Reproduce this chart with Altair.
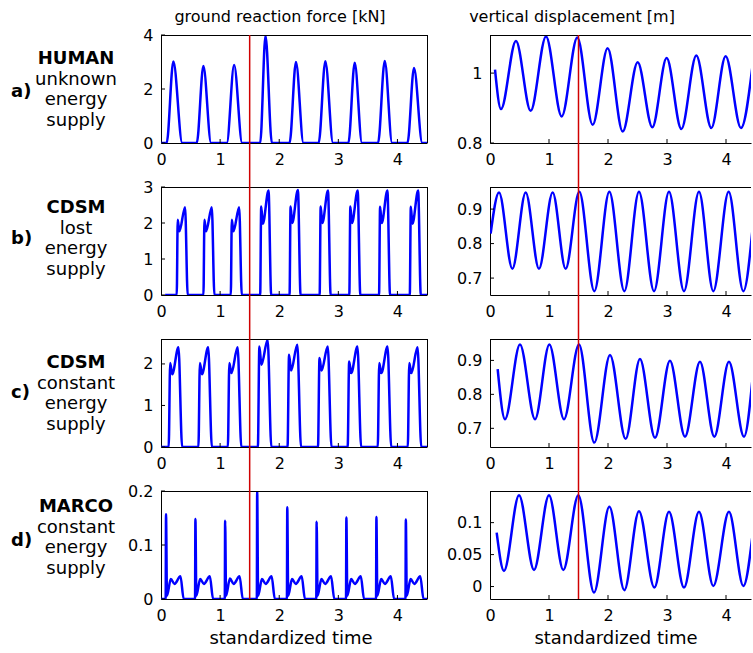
import altair as alt
import pandas as pd

# ---------------- values ----------------
time_ticks = [0, 1, 2, 3, 4]
marker_time = 1.5

row_tags = ["a)", "b)", "c)", "d)"]
row_names = ["HUMAN", "CDSM", "CDSM", "MARCO"]
row_desc = [["unknown", "energy", "supply"],
            ["lost", "energy", "supply"],
            ["constant", "energy", "supply"],
            ["constant", "energy", "supply"]]
col_titles = ["ground reaction force [kN]", "vertical displacement [m]"]
x_title = "standardized time"

# a) HUMAN - ground reaction force [kN]
a_start = [0.096, 0.605, 1.113, 1.678, 2.175, 2.667, 3.170, 3.672, 4.170]
a_peak_t = [0.209, 0.717, 1.237, 1.768, 2.283, 2.780, 3.277, 3.785, 4.280]
a_peak = [3.02, 2.85, 2.89, 3.98, 3.00, 3.03, 2.97, 3.04, 2.78]
a_end = [0.360, 0.847, 1.373, 1.876, 2.410, 2.910, 3.400, 3.910, 4.420]

# b) CDSM lost energy supply - GRF [kN]: onset, first peak, dip, main peak
b_on = [0.266, 0.718, 1.181, 1.678, 2.175, 2.684, 3.186, 3.689, 4.209]
b_first = [2.09, 2.09, 2.09, 2.46, 2.46, 2.46, 2.46, 2.45, 2.45]
b_dip = [1.77, 1.77, 1.77, 1.98, 2.00, 2.00, 2.00, 2.00, 1.98]
b_peak = [2.44, 2.44, 2.44, 2.90, 2.92, 2.90, 2.90, 2.90, 2.90]
b_phase = [0.0, 0.017, 0.045, 0.141, 0.186]

# c) CDSM constant energy supply - GRF [kN]
c_on = [0.130, 0.633, 1.131, 1.639, 2.141, 2.656, 3.158, 3.667, 4.175]
c_first = [2.02, 2.02, 2.02, 2.42, 2.22, 2.14, 2.06, 2.02, 2.02]
c_dip = [1.75, 1.75, 1.78, 1.98, 1.84, 1.84, 1.78, 1.78, 1.78]
c_peak = [2.40, 2.40, 2.40, 2.58, 2.46, 2.42, 2.42, 2.42, 2.40]
c_phase = [0.0, 0.025, 0.060, 0.165, 0.228]

# d) MARCO constant energy supply - GRF [kN]: impact spike then double hump
d_on = [0.079, 0.576, 1.079, 1.621, 2.130, 2.627, 3.130, 3.638, 4.136]
d_spike = [0.157, 0.148, 0.145, 0.200, 0.170, 0.143, 0.151, 0.152, 0.147]
d_valley = [0.006, 0.006, 0.006, 0.006, 0.006, 0.006, 0.006, 0.006, 0.006]
d_hump1 = [0.037, 0.037, 0.038, 0.037, 0.037, 0.037, 0.037, 0.037, 0.037]
d_dip = [0.028, 0.028, 0.028, 0.028, 0.028, 0.028, 0.028, 0.028, 0.028]
d_hump2 = [0.042, 0.042, 0.042, 0.042, 0.042, 0.042, 0.042, 0.042, 0.042]
d_phase = [0.0, 0.006, 0.022, 0.087, 0.150, 0.250, 0.305]

# vertical displacement [m] - extrema of the oscillation
ra_t = [0.085, 0.186, 0.440, 0.689, 0.949, 1.215, 1.480, 1.740, 1.994, 2.249,
        2.503, 2.751, 2.994, 3.243, 3.497, 3.751, 3.994, 4.254, 4.458]
ra_v = [1.010, 0.897, 1.092, 0.892, 1.105, 0.876, 1.102, 0.852, 1.071, 0.833,
        1.031, 0.845, 1.043, 0.840, 1.050, 0.843, 1.048, 0.843, 1.033]

rb_t = [0.011, 0.153, 0.379, 0.605, 0.830, 1.062, 1.282, 1.514, 1.768, 2.023,
        2.277, 2.525, 2.780, 3.034, 3.288, 3.542, 3.785, 4.045, 4.294, 4.458]
rb_v = [0.829, 0.948, 0.727, 0.948, 0.727, 0.948, 0.727, 0.950, 0.662, 0.950,
        0.662, 0.950, 0.662, 0.950, 0.662, 0.950, 0.662, 0.950, 0.662, 0.857]

rc_t = [0.130, 0.254, 0.508, 0.763, 1.006, 1.254, 1.508, 1.768, 2.034, 2.299,
        2.542, 2.797, 3.050, 3.305, 3.559, 3.802, 4.050, 4.305, 4.458]
rc_v = [0.8745, 0.727, 0.947, 0.727, 0.947, 0.727, 0.947, 0.658, 0.916, 0.669,
        0.904, 0.672, 0.899, 0.6755, 0.896, 0.6755, 0.896, 0.6755, 0.862]

rd_t = [0.113, 0.237, 0.492, 0.746, 1.000, 1.243, 1.497, 1.763, 2.023, 2.277,
        2.525, 2.785, 3.034, 3.288, 3.542, 3.785, 4.050, 4.294, 4.458]
rd_v = [0.0844, 0.0245, 0.143, 0.026, 0.143, 0.026, 0.143, -0.0094, 0.125, -0.0057,
        0.118, -0.0016, 0.117, -0.0016, 0.117, 0.001, 0.117, 0.001, 0.087]

left_ydom = [[0, 4], [0, 3], [0, 2.6], [0, 0.2]]
left_yticks = [[0, 2, 4], [0, 1, 2, 3], [0, 1, 2], [0, 0.1, 0.2]]
right_ydom = [[0.8, 1.109], [0.651, 0.964], [0.645, 0.963], [-0.0195, 0.1495]]
right_yticks = [[0.8, 1], [0.7, 0.8, 0.9], [0.7, 0.8, 0.9], [0, 0.05, 0.1]]

# ---------------- layout / style ----------------
H = 108
VGAP = 44
HGAP = 63
LW = 266
RW = 261
LXMAX = 4.5
RXMAX = RW / 59.0
BLUE = "#0000ff"
RED = "#d00000"
FONT = "DejaVu Sans"
TXT = "#000000"


def build_pulses(onsets, phase, levels, t_first=0.0, t_last=4.5):
    rows = [(t_first, 0.0)]
    for i, t0 in enumerate(onsets):
        for dt, lv in zip(phase, levels):
            rows.append((t0 + dt, lv[i]))
    rows.append((t_last, 0.0))
    return pd.DataFrame(rows, columns=["t", "v"])


zeros9 = [0.0] * 9
df_a = pd.DataFrame(
    [(0.0, 0.0)]
    + [p for s, pt, pv, e in zip(a_start, a_peak_t, a_peak, a_end)
       for p in ((s, 0.0), (pt, pv), (e, 0.0))]
    + [(4.5, 0.0)], columns=["t", "v"])
df_b = build_pulses(b_on, b_phase, [zeros9, b_first, b_dip, b_peak, zeros9], t_first=0.07)
df_c = build_pulses(c_on, c_phase, [zeros9, c_first, c_dip, c_peak, zeros9])
df_d = build_pulses(d_on, d_phase, [zeros9, d_spike, d_valley, d_hump1, d_dip, d_hump2, zeros9])
left_dfs = [df_a, df_b, df_c, df_d]
right_dfs = [pd.DataFrame({"t": ra_t, "v": ra_v}), pd.DataFrame({"t": rb_t, "v": rb_v}),
             pd.DataFrame({"t": rc_t, "v": rc_v}), pd.DataFrame({"t": rd_t, "v": rd_v})]

one = alt.Data(values=[{}])


def text_layer(txt, x, y, size, bold=False, align="center", baseline="middle"):
    return alt.Chart(one).mark_text(
        font=FONT, fontSize=size, fontWeight="bold" if bold else "normal",
        color=TXT, align=align, baseline=baseline
    ).encode(x=alt.value(x), y=alt.value(y), text=alt.value(txt))


def panel(df, xmax, width, ydom, yticks, row, extras):
    X = alt.X("t:Q", scale=alt.Scale(domain=[0, xmax], nice=False, zero=False),
              axis=alt.Axis(values=time_ticks, format="~g"), title=None)
    Y = alt.Y("v:Q", scale=alt.Scale(domain=ydom, nice=False, zero=False),
              axis=alt.Axis(values=yticks, format="~g"), title=None)
    line = alt.Chart(df).mark_line(color=BLUE, strokeWidth=2.5, interpolate="monotone",
                                   clip=True).encode(x=X, y=Y)
    xt = alt.Chart(pd.DataFrame({"t": time_ticks[1:]})).mark_rule(
        color="black", strokeWidth=1).encode(x=X, y=alt.value(H), y2=alt.value(H - 4))
    yt = alt.Chart(pd.DataFrame({"v": yticks})).mark_rule(
        color="black", strokeWidth=1).encode(y=Y, x=alt.value(0), x2=alt.value(4))
    top = alt.Chart(one).mark_rule(color="black", strokeWidth=1).encode(
        x=alt.value(0), x2=alt.value(width), y=alt.value(0.5))
    layers = [line, xt, yt, top]
    if xmax == LXMAX:
        layers.append(alt.Chart(one).mark_rule(color="black", strokeWidth=1).encode(
            x=alt.value(width + 0.5), y=alt.value(0), y2=alt.value(H)))
    ext = VGAP if row < 3 else 0
    red = alt.Chart(pd.DataFrame({"t": [marker_time]})).mark_rule(
        color=RED, strokeWidth=1.5).encode(x=X, y=alt.value(0), y2=alt.value(H + ext))
    layers.append(red)
    layers += extras
    return alt.layer(*layers).properties(width=width, height=H)


name_dy = [24, 21, 24, 16]
tag_dy = [57, 52, 54, 50]
cells = []
for r in range(4):
    lex = []
    rex = []
    lex.append(text_layer(row_names[r], -85, name_dy[r], 18, bold=True))
    for k, w in enumerate(row_desc[r]):
        lex.append(text_layer(w, -85, name_dy[r] + 20.5 * (k + 1), 18))
    lex.append(text_layer(row_tags[r], -150, tag_dy[r], 18, bold=True, align="left"))
    if r == 0:
        lex.append(alt.Chart(one).mark_text(text=".", fontSize=1, opacity=0, align="left",
                                            baseline="top").encode(x=alt.value(-161), y=alt.value(-35)))
        lex.append(text_layer(col_titles[0], 119, -18, 16))
        rex.append(text_layer(col_titles[1], 82, -18, 16))
    if r == 3:
        lex.append(text_layer(x_title, 130, H + 40, 18))
        rex.append(text_layer(x_title, 126, H + 40, 18))
    cells.append(panel(left_dfs[r], LXMAX, LW, left_ydom[r], left_yticks[r], r, lex))
    cells.append(panel(right_dfs[r], RXMAX, RW, right_ydom[r], right_yticks[r], r, rex))

chart = alt.concat(*cells, columns=2, spacing={"row": VGAP, "column": HGAP}).properties(
    bounds="flush", padding=0
).configure_view(stroke=None).configure_axis(
    labelFont=FONT, labelFontSize=16, labelColor=TXT, domainColor="black", domainWidth=1,
    ticks=False, grid=False, labelFlush=False, labelOverlap=False, labelPadding=8
)

chart.save("out.html", embed_options={"renderer": "svg", "actions": False})
